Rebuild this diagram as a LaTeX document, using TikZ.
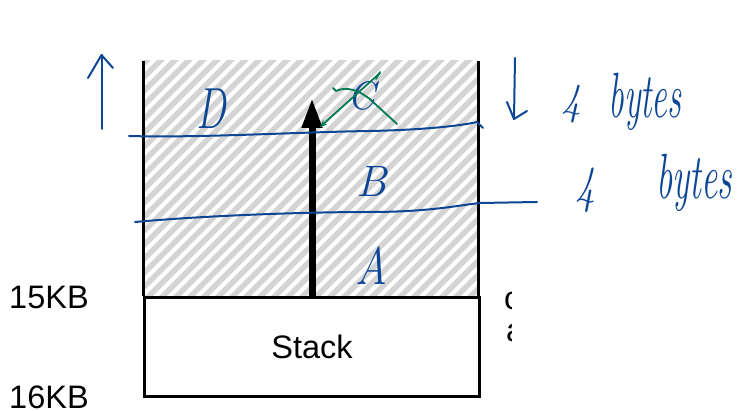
\documentclass[tikz,border=0pt]{standalone}
\usepackage{fontspec}
\setsansfont{Liberation Sans}
\usetikzlibrary{arrows.meta}
\definecolor{ink}{RGB}{14,70,150}
\definecolor{inkgreen}{RGB}{0,122,82}
\definecolor{hatchgray}{RGB}{212,212,212}
\tikzset{
  sflab/.style={font=\sffamily\fontsize{32.5}{34}\selectfont, inner sep=0pt},
  hand/.style={ink, font=\itshape\fontsize{40}{42}\selectfont, inner sep=0pt},
  inkline/.style={ink, line width=2pt, line cap=round, line join=round},
  greenline/.style={inkgreen, line width=1.8pt, line cap=round, line join=round},
  wall/.style={line width=3pt},
}
\begin{document}
\begin{tikzpicture}[x=1pt,y=-1pt]
\useasboundingbox (0,0) rectangle (737,411);
\fill[white] (0,0) rectangle (737,411);

% hatched free region
\node[minimum width=335pt, minimum height=235pt, anchor=north west, inner sep=0pt] (heap) at (143,61) {};
\begin{scope}
  \clip (heap.north west) rectangle (heap.south east);
  \foreach \i in {-250,-236,...,350} \draw[hatchgray, line width=5.5pt] (143+\i,300) -- ++(250,-250);
\end{scope}
\draw[wall] (heap.north west) -- (heap.south west);
\draw[wall] (heap.north east) -- (heap.south east);

% stack box
\node[draw, wall, minimum width=335pt, minimum height=99pt, anchor=north west, sflab] (stack) at (143,296) {Stack};

% labels
\node[sflab, anchor=base west] (kb15) at (9,309) {15KB};
\node[sflab, anchor=base west] (kb16) at (9,409) {16KB};
\begin{scope}
  \clip (500,280) rectangle (511,345);
  \node[sflab, anchor=base west] (frag1) at (504,310) {c};
  \node[sflab, anchor=base west] (frag2) at (506,342) {a};
\end{scope}

% thick growth arrow
\coordinate (tiptop) at (stack.north |- 0,98);
\draw[line width=7pt, -{Triangle[length=30pt,width=19pt]}] (stack.north) -- (tiptop);

% handwritten separator lines
\draw[inkline] (129,136) .. controls (200,138) and (300,132) .. (370,131) .. controls (420,130) and (460,126) .. (477,122) -- (483,128);
\draw[inkline] (135,222) .. controls (200,216) and (300,212) .. (370,212) .. controls (430,212) and (460,205) .. (480,203) -- (537,202);

% handwritten arrows
\draw[inkline] (101.5,129) -- (101.5,55);
\draw[inkline] (88,78) -- (101.5,55) -- (113,68);
\draw[inkline] (515,58) -- (514,119);
\draw[inkline] (507,102) -- (514,119) -- (527,111);

% handwritten letters
\node[hand, yscale=1.45] (D) at (211,109) {D};
\node[hand, font=\itshape\fontsize{44}{46}\selectfont] (B) at (372,181) {B};
\node[hand, font=\itshape\fontsize{44}{46}\selectfont, yscale=1.2] (A) at (371,266) {A};
\node[hand] (C) at (361,96) {C};

\node[hand, yscale=1.1] (four1) at (571,104) {4};
\node[hand, xscale=0.87, yscale=1.6] (bytes1) at (645,102) {bytes};
\node[hand, yscale=1.3] (four2) at (585,190) {4};
\node[hand, xscale=0.9, yscale=1.6] (bytes2) at (694,183) {bytes};

% green cross-out
\draw[greenline, -{Stealth[length=7pt,width=6pt]}] (380,73) -- (320,127);
\draw[greenline] (376,79) -- (380,72);
\draw[greenline] (333,88) -- (336,91) .. controls (346,86) and (360,90) .. (372,101) -- (397,124);
\end{tikzpicture}
\end{document}
